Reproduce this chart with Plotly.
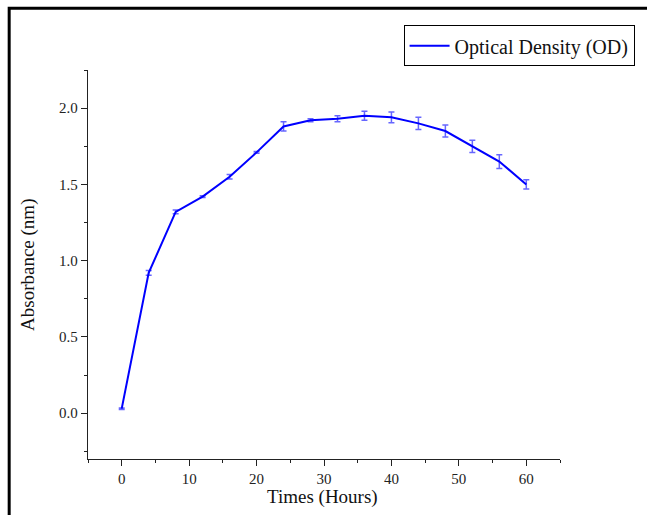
import plotly.graph_objects as go

# data
hours = [0, 4, 8, 12, 16, 20, 24, 28, 32, 36, 40, 44, 48, 52, 56, 60]
od = [0.03, 0.92, 1.32, 1.42, 1.55, 1.71, 1.88, 1.92, 1.93, 1.95, 1.94, 1.90, 1.85, 1.75, 1.65, 1.50]
od_err = [0.005, 0.015, 0.012, 0.005, 0.015, 0.005, 0.03, 0.01, 0.02, 0.03, 0.035, 0.04, 0.04, 0.04, 0.045, 0.03]

FONT = "Liberation Serif, Times New Roman, serif"

fig = go.Figure()
fig.add_trace(go.Scatter(
    x=hours, y=od,
    mode="lines",
    name="Optical Density (OD)",
    line=dict(color="#0000FF", width=2),
    error_y=dict(type="data", array=od_err, visible=True,
                 color="rgba(0,0,255,0.6)", thickness=1.5, width=3),
))

# 图框（只露出上边和左边）
fig.add_shape(type="rect", xref="paper", yref="paper",
              x0=-0.167, x1=1.25, y0=-0.25, y1=1.159,
              line=dict(color="black", width=3), layer="above")

axis_common = dict(
    showline=True, linecolor="#222", linewidth=1.3,
    ticks="outside", tickcolor="#222", tickwidth=1.2,
    showgrid=False, zeroline=False, mirror=False, automargin=False,
    tickfont=dict(family=FONT, size=15, color="#222"),
)

fig.update_xaxes(
    range=[-5, 65], tick0=0, dtick=10, ticklen=6,
    minor=dict(ticks="outside", dtick=5, tick0=0, ticklen=3, tickcolor="#222"),
    **axis_common,
)
fig.update_yaxes(
    range=[-0.3, 2.25], tick0=0, dtick=0.5, ticklen=6, tickformat=".1f",
    minor=dict(ticks="outside", dtick=0.25, tick0=0, ticklen=3, tickcolor="#222"),
    **axis_common,
)

# 坐标轴标题用注释精确定位
title_font = dict(family=FONT, size=19, color="#111")
fig.add_annotation(text="Times (Hours)", xref="paper", yref="paper",
                   x=0.496, y=-0.098, xanchor="center", yanchor="middle",
                   showarrow=False, font=title_font)
fig.add_annotation(text="Absorbance (nm)", xref="paper", yref="paper",
                   x=-0.127, y=0.499, xanchor="center", yanchor="middle",
                   textangle=-90, showarrow=False, font=title_font)

fig.update_layout(
    width=647, height=515,
    margin=dict(l=88, r=85, t=70, b=56),
    plot_bgcolor="white", paper_bgcolor="white",
    showlegend=True,
    legend=dict(
        x=1.158, y=1.115, xanchor="right", yanchor="top",
        bordercolor="black", borderwidth=1, bgcolor="white",
        font=dict(family=FONT, size=20, color="#111"),
        itemwidth=40,
    ),
)

# 去掉页面默认的 8px 边距
fig.write_html("out.html", config={"displayModeBar": False},
               post_script="document.body.style.margin='0';")
